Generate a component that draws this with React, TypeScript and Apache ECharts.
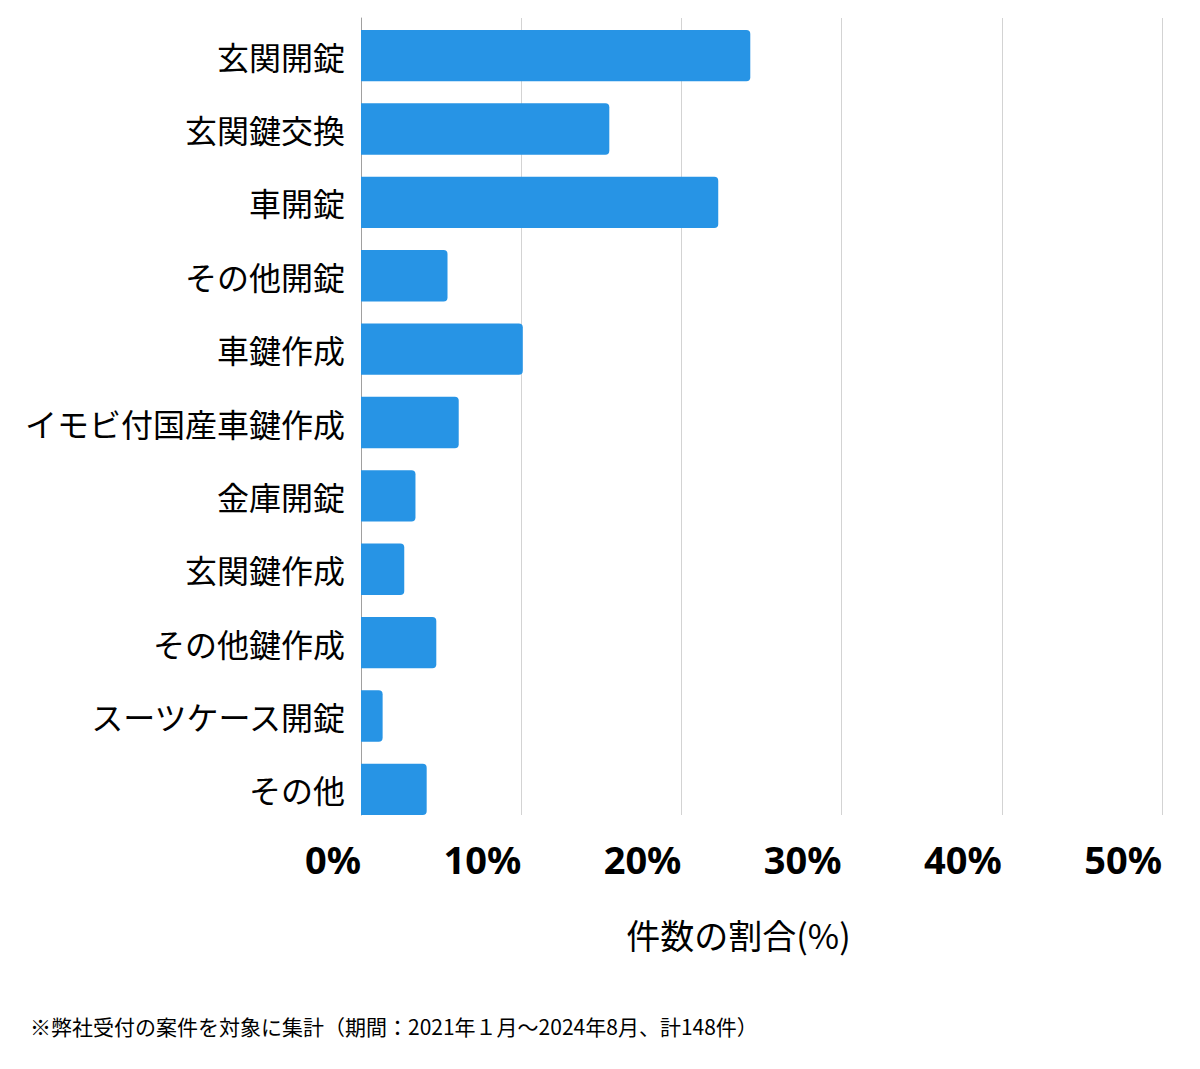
import React, { useEffect, useRef } from "react";
import * as echarts from "echarts";

const categories = [
  "玄関開錠",
  "玄関鍵交換",
  "車開錠",
  "その他開錠",
  "車鍵作成",
  "イモビ付国産車鍵作成",
  "金庫開錠",
  "玄関鍵作成",
  "その他鍵作成",
  "スーツケース開錠",
  "その他",
];
const shares = [24.3, 15.5, 22.3, 5.4, 10.1, 6.1, 3.4, 2.7, 4.7, 1.35, 4.1];
const axisTicks = [0, 10, 20, 30, 40, 50];
const axisTitle = "件数の割合(%)";
const footnote = "※弊社受付の案件を対象に集計（期間：2021年１月～2024年8月、計148件）";

const JP = '"Noto Sans CJK JP", "Noto Sans", sans-serif';

export default function App() {
  const ref = useRef<HTMLDivElement>(null);
  useEffect(() => {
    if (!ref.current) return;
    const chart = echarts.init(ref.current, undefined, { renderer: "svg" });
    const xMin = axisTicks[0];
    const xMax = axisTicks[axisTicks.length - 1];
    chart.setOption({
      animation: false,
      backgroundColor: "#ffffff",
      grid: [
        { left: 361, right: 38, top: 18, bottom: 254, containLabel: false },
        { left: 361, right: 38, top: 19, bottom: 243, containLabel: false },
      ],
      xAxis: [
        {
          type: "value",
          gridIndex: 0,
          min: xMin,
          max: xMax,
          interval: 10,
          axisLine: { show: false },
          axisTick: { show: false },
          splitLine: { show: true, lineStyle: { color: "#d3d3d3", width: 1 } },
          axisLabel: {
            formatter: (v: number) => `${v}%`,
            align: "right",
            margin: 25,
            color: "#000",
            fontSize: 38,
            fontWeight: "bold",
            fontFamily: '"Noto Sans", sans-serif',
          },
          name: axisTitle,
          nameLocation: "middle",
          nameGap: 102,
          nameTextStyle: {
            color: "#000",
            fontSize: 34,
            fontFamily: JP,
            padding: [0, 46, 0, 0],
          },
        },
        {
          type: "value",
          gridIndex: 1,
          min: xMin,
          max: xMax,
          interval: 10,
          show: false,
          splitLine: { show: false },
        },
      ],
      yAxis: [
        {
          type: "category",
          gridIndex: 0,
          data: categories,
          inverse: true,
          axisLine: { show: true, lineStyle: { color: "#a0a0a0", width: 1 } },
          axisTick: { show: false },
          axisLabel: { show: false },
        },
        {
          type: "category",
          gridIndex: 1,
          data: categories,
          inverse: true,
          axisLine: { show: false },
          axisTick: { show: false },
          splitLine: { show: false },
          axisLabel: {
            color: "#000",
            fontSize: 32,
            fontFamily: JP,
            margin: 16,
          },
        },
      ],
      series: [
        {
          type: "bar",
          xAxisIndex: 1,
          yAxisIndex: 1,
          data: shares,
          barCategoryGap: "30%",
          itemStyle: { color: "#2794e5", borderRadius: [0, 4, 4, 0] },
        },
      ],
      graphic: [
        {
          type: "text",
          left: 30,
          top: 1015,
          style: {
            text: footnote,
            fill: "#000",
            fontSize: 21,
            fontFamily: JP,
          },
        },
      ],
    });
    return () => chart.dispose();
  }, []);
  return (
    <div
      ref={ref}
      style={{ position: "fixed", left: 0, top: 0, width: 1200, height: 1069, background: "#fff" }}
    />
  );
}
